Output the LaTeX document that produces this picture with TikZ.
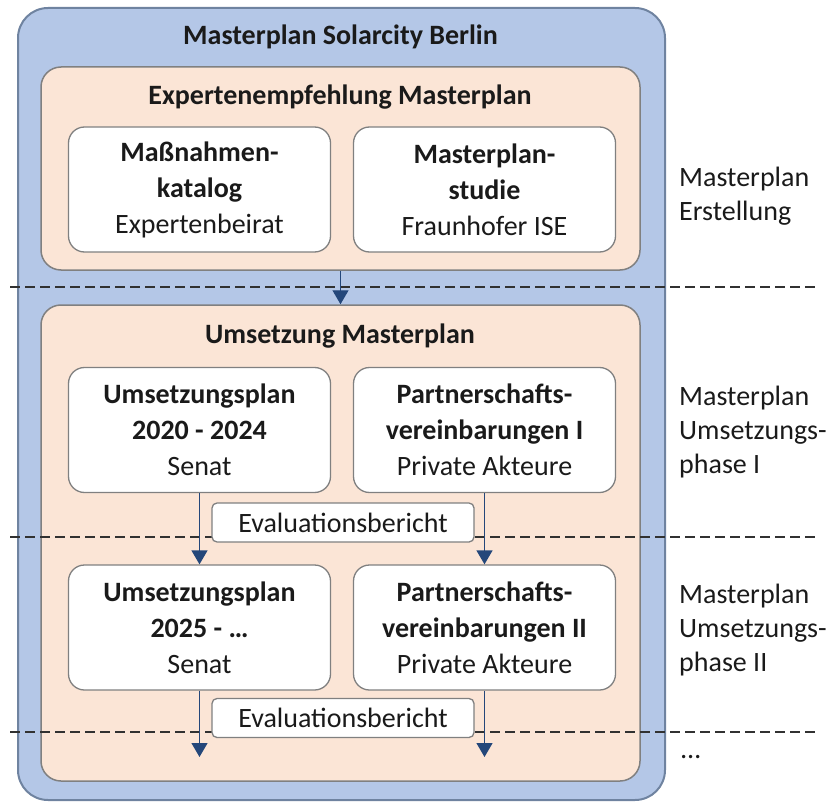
\documentclass[tikz,border=0pt]{standalone}
\usepackage{fontspec}
\setmainfont{Carlito}
\usetikzlibrary{arrows.meta}
\definecolor{hellblau}{HTML}{B4C7E7}
\definecolor{randblau}{HTML}{6F83A0}
\definecolor{pfirsich}{HTML}{FBE5D6}
\definecolor{randgrau}{HTML}{808080}
\definecolor{pfeilblau}{HTML}{24477A}
\definecolor{schrift}{HTML}{1A1A1A}
\tikzset{
    txt/.style      = {font=\fontsize{28}{36}\selectfont, text=schrift, inner sep=0pt, align=center},
    kopf/.style     = {txt, font=\fontsize{28}{36}\selectfont\bfseries},
    seite/.style    = {txt, font=\fontsize{28}{34}\selectfont, align=left, anchor=west},
    rahmen/.style   = {draw=randblau, line width=2pt, fill=hellblau, rounded corners=30pt},
    phase/.style    = {draw=randgrau, line width=1.5pt, fill=pfirsich, rounded corners=20pt},
    karte/.style    = {txt, draw=randgrau, line width=1.3pt, fill=white, rounded corners=16pt,
                       minimum width=262pt, minimum height=125pt},
    bericht/.style  = {karte, rounded corners=5pt, minimum height=39pt},
    schnitt/.style  = {draw=schrift!90, line width=1.3pt, dash pattern=on 10pt off 5pt},
    fluss/.style    = {draw=pfeilblau, line width=1.3pt,
                       -{Triangle[width=16pt, length=14pt, fill=pfeilblau]}}
}
\begin{document}
\begin{tikzpicture}[x=1pt, y=-1pt]
        \useasboundingbox (0,0) rectangle (827,805);
        \node(berlin)     at (341.5,404)   [rahmen, minimum width=647pt, minimum height=792pt] {};
        \node(berlinT)    at (340.5, 37)   [kopf] {Masterplan Solarcity Berlin};
        \node(empfehlung) at (340.5,168.5) [phase, minimum width=599pt, minimum height=203pt] {};
        \node(empfehlungT)at (340,  97)    [kopf] {Expertenempfehlung Masterplan};
        \node(umsetzung)  at (340.5,543)   [phase, minimum width=599pt, minimum height=476pt] {};
        \node(umsetzungT) at (340, 336)    [kopf] {Umsetzung Masterplan};
        \draw[schnitt] (10,287) -- (817,287);
        \draw[schnitt] (10,537) -- (817,537);
        \draw[schnitt] (10,732) -- (817,732);
        \node(katalog)    at (199.5,189.5) [karte] {\textbf{Maßnahmen-}\\\textbf{katalog}\\Expertenbeirat};
        \node(studie)     at (484.5,189.5) [karte] {\textbf{Masterplan-}\\\textbf{studie}\\Fraunhofer ISE};
        \node(plan1)      at (199.5,430)   [karte] {\textbf{Umsetzungsplan}\\\textbf{2020 - 2024}\\Senat};
        \node(vertrag1)   at (484.5,430)   [karte] {\textbf{Partnerschafts-}\\\textbf{vereinbarungen I}\\Private Akteure};
        \node(bericht1)   at (343,522.5)   [bericht] {Evaluationsbericht};
        \node(plan2)      at (199.5,627.5) [karte] {\textbf{Umsetzungsplan}\\\textbf{2025 - …}\\Senat};
        \node(vertrag2)   at (484.5,627.5) [karte] {\textbf{Partnerschafts-}\\\textbf{vereinbarungen II}\\Private Akteure};
        \node(bericht2)   at (343,718)     [bericht] {Evaluationsbericht};
        \coordinate(plan3)    at (199.5,757);
        \coordinate(vertrag3) at (484.5,757);
        \draw[fluss] (empfehlung) -- (umsetzung.north);
        \draw[fluss] (plan1)      -- (plan2);
        \draw[fluss] (vertrag1)   -- (vertrag2);
        \draw[fluss] (plan2)      -- (plan3);
        \draw[fluss] (vertrag2)   -- (vertrag3);
        \node(erstellung) at (679,196) [seite] {Masterplan\\Erstellung};
        \node(phase1)     at (679,432) [seite] {Masterplan\\Umsetzungs-\\phase I};
        \node(phase2)     at (679,630) [seite] {Masterplan\\Umsetzungs-\\phase II};
        \node(weiter)     at (681,757) [seite] {…};
    \end{tikzpicture}
\end{document}
